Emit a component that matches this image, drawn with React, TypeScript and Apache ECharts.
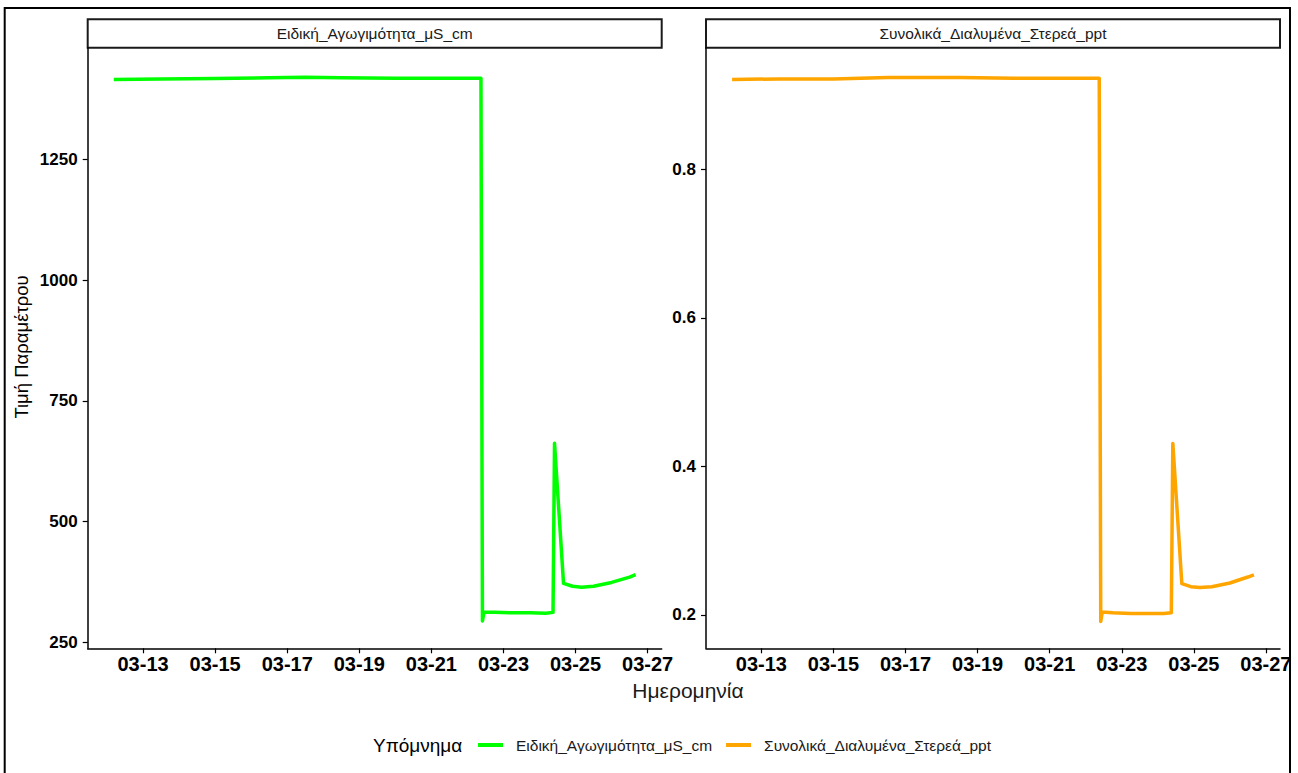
import React, { useEffect, useRef } from "react";
import * as echarts from "echarts";

// ---- Data ----
const times = [
  "03-12 04:30", "03-13 12:00", "03-15 00:00", "03-16 12:00", "03-17 12:00",
  "03-18 12:00", "03-20 00:00", "03-21 12:00", "03-22 09:00", "03-22 10:00",
  "03-22 11:00", "03-22 18:00", "03-23 06:00", "03-23 18:00", "03-24 04:00",
  "03-24 09:00", "03-24 10:00", "03-24 16:00", "03-24 22:00", "03-25 04:00",
  "03-25 12:00", "03-26 00:00", "03-26 12:00", "03-26 16:00",
];
const conductivity = [
  1415, 1416, 1417, 1419, 1420,
  1419, 1418, 1418, 1418, 294,
  313, 312, 311, 311, 310,
  312, 662, 372, 366, 364,
  366, 374, 385, 390,
];
const tds = [
  0.921, 0.922, 0.922, 0.924, 0.924,
  0.924, 0.923, 0.923, 0.923, 0.191,
  0.204, 0.203, 0.202, 0.202, 0.202,
  0.203, 0.431, 0.242, 0.238, 0.237,
  0.238, 0.243, 0.251, 0.254,
];
const xTickDates = ["03-13", "03-15", "03-17", "03-19", "03-21", "03-23", "03-25", "03-27"];
const yTicksLeft = [250, 500, 750, 1000, 1250];
const yTicksRight = [0.2, 0.4, 0.6, 0.8];
const seriesNames = ["Ειδική_Αγωγιμότητα_μS_cm", "Συνολικά_Διαλυμένα_Στερεά_ppt"];
const colors = ["#00FF00", "#FFA500"];
const yTitle = "Τιμή Παραμέτρου";
const xTitle = "Ημερομηνία";
const legendTitle = "Υπόμνημα";

const YEAR = 2024;
const parseTime = (s: string) => {
  const [md, hm] = s.split(" ");
  const [m, d] = md.split("-").map(Number);
  const [h, mi] = (hm || "00:00").split(":").map(Number);
  return Date.UTC(YEAR, m - 1, d, h, mi);
};
const pad = (n: number) => (n < 10 ? "0" + n : "" + n);
const fmt = (v: number) => {
  const d = new Date(v);
  return pad(d.getUTCMonth() + 1) + "-" + pad(d.getUTCDate());
};

const FONT = "'Liberation Sans', Arial, sans-serif";

export default function App() {
  const ref = useRef<HTMLDivElement>(null);
  useEffect(() => {
    if (!ref.current) return;
    const chart = echarts.init(ref.current, undefined, { renderer: "svg" });
    const ts = times.map(parseTime);
    const tMin = Math.min(...ts);
    const tMax = Math.max(...ts);
    const tPad = (tMax - tMin) * 0.05;
    const xTicks = xTickDates.map((s) => parseTime(s + " 00:00"));

    const gridTop = 47.7;
    const gridH = 600.6;
    const gridW = 574;
    const lefts = [87.7, 706];

    const xAxisBase = (gi: number) => ({
      type: "value",
      gridIndex: gi,
      min: tMin - tPad,
      max: tMax + tPad,
      axisLine: { show: true, onZero: false, lineStyle: { color: "#000", width: 1.5 } },
      axisTick: { show: true, length: 5, customValues: xTicks, lineStyle: { color: "#000", width: 1.2 } },
      axisLabel: {
        customValues: xTicks,
        formatter: (v: number) => fmt(v),
        fontFamily: FONT,
        fontSize: 20,
        fontWeight: "bold",
        color: "#000",
        margin: 6,
      },
      splitLine: { show: false },
    });
    const yAxisBase = (gi: number, min: number, max: number, ticks: number[]) => ({
      type: "value",
      gridIndex: gi,
      min,
      max,
      axisLine: { show: true, onZero: false, lineStyle: { color: "#000", width: 1.5 } },
      axisTick: { show: true, length: 5, customValues: ticks, lineStyle: { color: "#000", width: 1.2 } },
      axisLabel: {
        customValues: ticks,
        formatter: (v: number) => String(v),
        fontFamily: FONT,
        fontSize: 17,
        fontWeight: "bold",
        color: "#000",
        margin: 10,
      },
      splitLine: { show: false },
    });

    const stripGraphics = seriesNames.map((name, i) => ({
      type: "group",
      children: [
        {
          type: "rect",
          shape: { x: lefts[i], y: 19.3, width: gridW, height: 28.4 },
          style: { fill: "#fff", stroke: "#1a1a1a", lineWidth: 2 },
        },
        {
          type: "text",
          x: lefts[i] + gridW / 2,
          y: 33.5,
          style: {
            text: name,
            fontFamily: FONT,
            fontSize: 15.5,
            fill: "#1a1a1a",
            textAlign: "center",
            textVerticalAlign: "middle",
          },
        },
      ],
    }));

    chart.setOption({
      animation: false,
      backgroundColor: "#fff",
      grid: lefts.map((l) => ({ left: l, top: gridTop, width: gridW, height: gridH, containLabel: false })),
      xAxis: [xAxisBase(0), xAxisBase(1)],
      yAxis: [
        yAxisBase(0, 237.6, 1481, yTicksLeft),
        yAxisBase(1, 0.155, 0.964, yTicksRight),
      ],
      legend: {
        data: seriesNames,
        left: 478,
        top: 736,
        padding: 0,
        orient: "horizontal",
        icon: "rect",
        itemWidth: 25,
        itemHeight: 4,
        itemGap: 14,
        textStyle: {
          fontFamily: FONT,
          fontSize: 15.5,
          color: "#1a1a1a",
          lineHeight: 18,
          padding: [0, 0, 0, 8],
        },
      },
      series: [
        {
          name: seriesNames[0],
          type: "line",
          xAxisIndex: 0,
          yAxisIndex: 0,
          data: ts.map((t, i) => [t, conductivity[i]]),
          showSymbol: false,
          symbol: "none",
          itemStyle: { color: colors[0] },
          lineStyle: { color: colors[0], width: 3.5, join: "round" },
        },
        {
          name: seriesNames[1],
          type: "line",
          xAxisIndex: 1,
          yAxisIndex: 1,
          data: ts.map((t, i) => [t, tds[i]]),
          showSymbol: false,
          symbol: "none",
          itemStyle: { color: colors[1] },
          lineStyle: { color: colors[1], width: 3.5, join: "round" },
        },
      ],
      graphic: [
        {
          type: "polyline",
          shape: { points: [[4.7, 800], [4.7, 8], [1290, 8], [1290, 800]] },
          style: { stroke: "#000", lineWidth: 2, fill: "none" },
          silent: true,
        },
        ...stripGraphics,
        {
          type: "text",
          x: 21,
          y: 347,
          rotation: Math.PI / 2,
          style: {
            text: yTitle,
            fontFamily: FONT,
            fontSize: 18.5,
            fill: "#000",
            textAlign: "center",
            textVerticalAlign: "middle",
          },
        },
        {
          type: "text",
          x: 688,
          y: 690,
          style: {
            text: xTitle,
            fontFamily: FONT,
            fontSize: 21,
            fill: "#1a1a1a",
            textAlign: "center",
            textVerticalAlign: "middle",
          },
        },
        {
          type: "text",
          x: 373,
          y: 745,
          style: {
            text: legendTitle,
            fontFamily: FONT,
            fontSize: 19,
            fill: "#000",
            textAlign: "left",
            textVerticalAlign: "middle",
          },
        },
      ],
    });
    return () => chart.dispose();
  }, []);
  return (
    <div
      ref={ref}
      style={{ position: "fixed", left: 0, top: 0, width: 1298, height: 773, background: "#fff" }}
    />
  );
}
